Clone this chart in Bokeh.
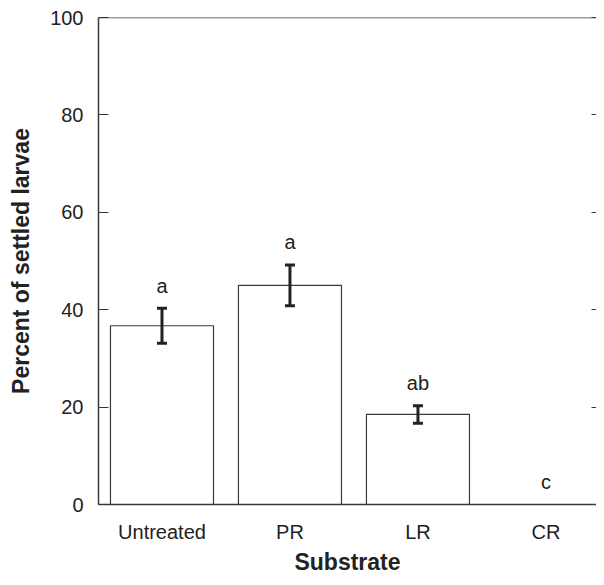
from bokeh.plotting import figure
from bokeh.models import ColumnDataSource, Range1d, FixedTicker, LinearAxis, Whisker, TeeHead, Span
from bokeh.core.properties import value
from bokeh.embed import file_html
from bokeh.resources import INLINE

categories = ["Untreated", "PR", "LR", "CR"]
means = [36.7, 45.0, 18.5, 0.0]
errors = [3.6, 4.2, 1.8, 0.0]
letters = ["a", "a", "ab", "c"]
yticks = [0, 20, 40, 60, 80, 100]

xpos = list(range(len(categories)))
upper = [m + e for m, e in zip(means, errors)]
lower = [m - e for m, e in zip(means, errors)]
letter_y = [u + 4.6 for u in upper]

FONT = "Liberation Sans"
INK = "#222222"
LINE = "#3a3a3a"

src = ColumnDataSource(dict(x=xpos, top=means, upper=upper, lower=lower,
                            ly=letter_y, lab=letters))
err_src = ColumnDataSource(dict(x=[x for x, e in zip(xpos, errors) if e > 0],
                                upper=[u for u, e in zip(upper, errors) if e > 0],
                                lower=[l for l, e in zip(lower, errors) if e > 0]))

p = figure(width=596, height=577, output_backend="svg", toolbar_location=None,
           x_range=Range1d(-0.496, 3.395), y_range=Range1d(0, 100),
           min_border_left=98, min_border_top=17, min_border_bottom=73, min_border_right=0)
p.outline_line_color = None
p.grid.grid_line_color = None
p.background_fill_color = "white"

p.vbar(x="x", top="top", width=0.805, bottom=0, source=src,
       fill_color="white", line_color=LINE, line_width=1.2)

w = Whisker(base="x", upper="upper", lower="lower", source=err_src, level="overlay",
            line_color=INK, line_width=3,
            upper_head=TeeHead(size=10, line_color=INK, line_width=3),
            lower_head=TeeHead(size=10, line_color=INK, line_width=3))
p.add_layout(w)

p.text(x="x", y="ly", text="lab", source=src, text_align="center",
       text_baseline="middle", text_font=value(FONT), text_font_size="20px",
       text_color=INK)

# top frame line
p.add_layout(Span(location=100, dimension="width", line_color=LINE, line_width=1.5))

# x axis
xa = p.xaxis[0]
xa.ticker = FixedTicker(ticks=xpos)
xa.major_label_overrides = {i: c for i, c in enumerate(categories)}
xa.major_tick_line_color = None
xa.minor_tick_line_color = None
xa.axis_line_color = LINE
xa.axis_line_width = 1.5
xa.major_label_text_font = FONT
xa.major_label_text_font_size = "20px"
xa.major_label_text_color = INK
xa.major_label_standoff = 10
xa.axis_label = "Substrate"
xa.axis_label_text_font = FONT
xa.axis_label_text_font_size = "23px"
xa.axis_label_text_font_style = "bold"
xa.axis_label_text_color = INK
xa.axis_label_standoff = 3

# y axis
ya = p.yaxis[0]
ya.ticker = FixedTicker(ticks=yticks)
ya.minor_tick_line_color = None
ya.major_tick_in = 10
ya.major_tick_out = 0
ya.major_tick_line_color = LINE
ya.major_tick_line_width = 1.2
ya.axis_line_color = LINE
ya.axis_line_width = 1.5
ya.major_label_text_font = FONT
ya.major_label_text_font_size = "20px"
ya.major_label_text_color = INK
ya.major_label_standoff = 15
ya.axis_label = "Percent of settled larvae"
ya.axis_label_text_font = FONT
ya.axis_label_text_font_size = "23px"
ya.axis_label_text_font_style = "bold"
ya.axis_label_text_color = INK
ya.axis_label_standoff = 13

# right ticks (no line, no labels)
right_ax = LinearAxis(ticker=FixedTicker(ticks=yticks),
                      major_label_overrides={t: "" for t in yticks},
                      axis_line_color=None, major_tick_in=5, major_tick_out=0,
                      major_tick_line_color=LINE, minor_tick_line_color=None,
                      major_label_standoff=0)
p.add_layout(right_ax, "right")

open("out.html", "w").write(file_html(p, INLINE))
